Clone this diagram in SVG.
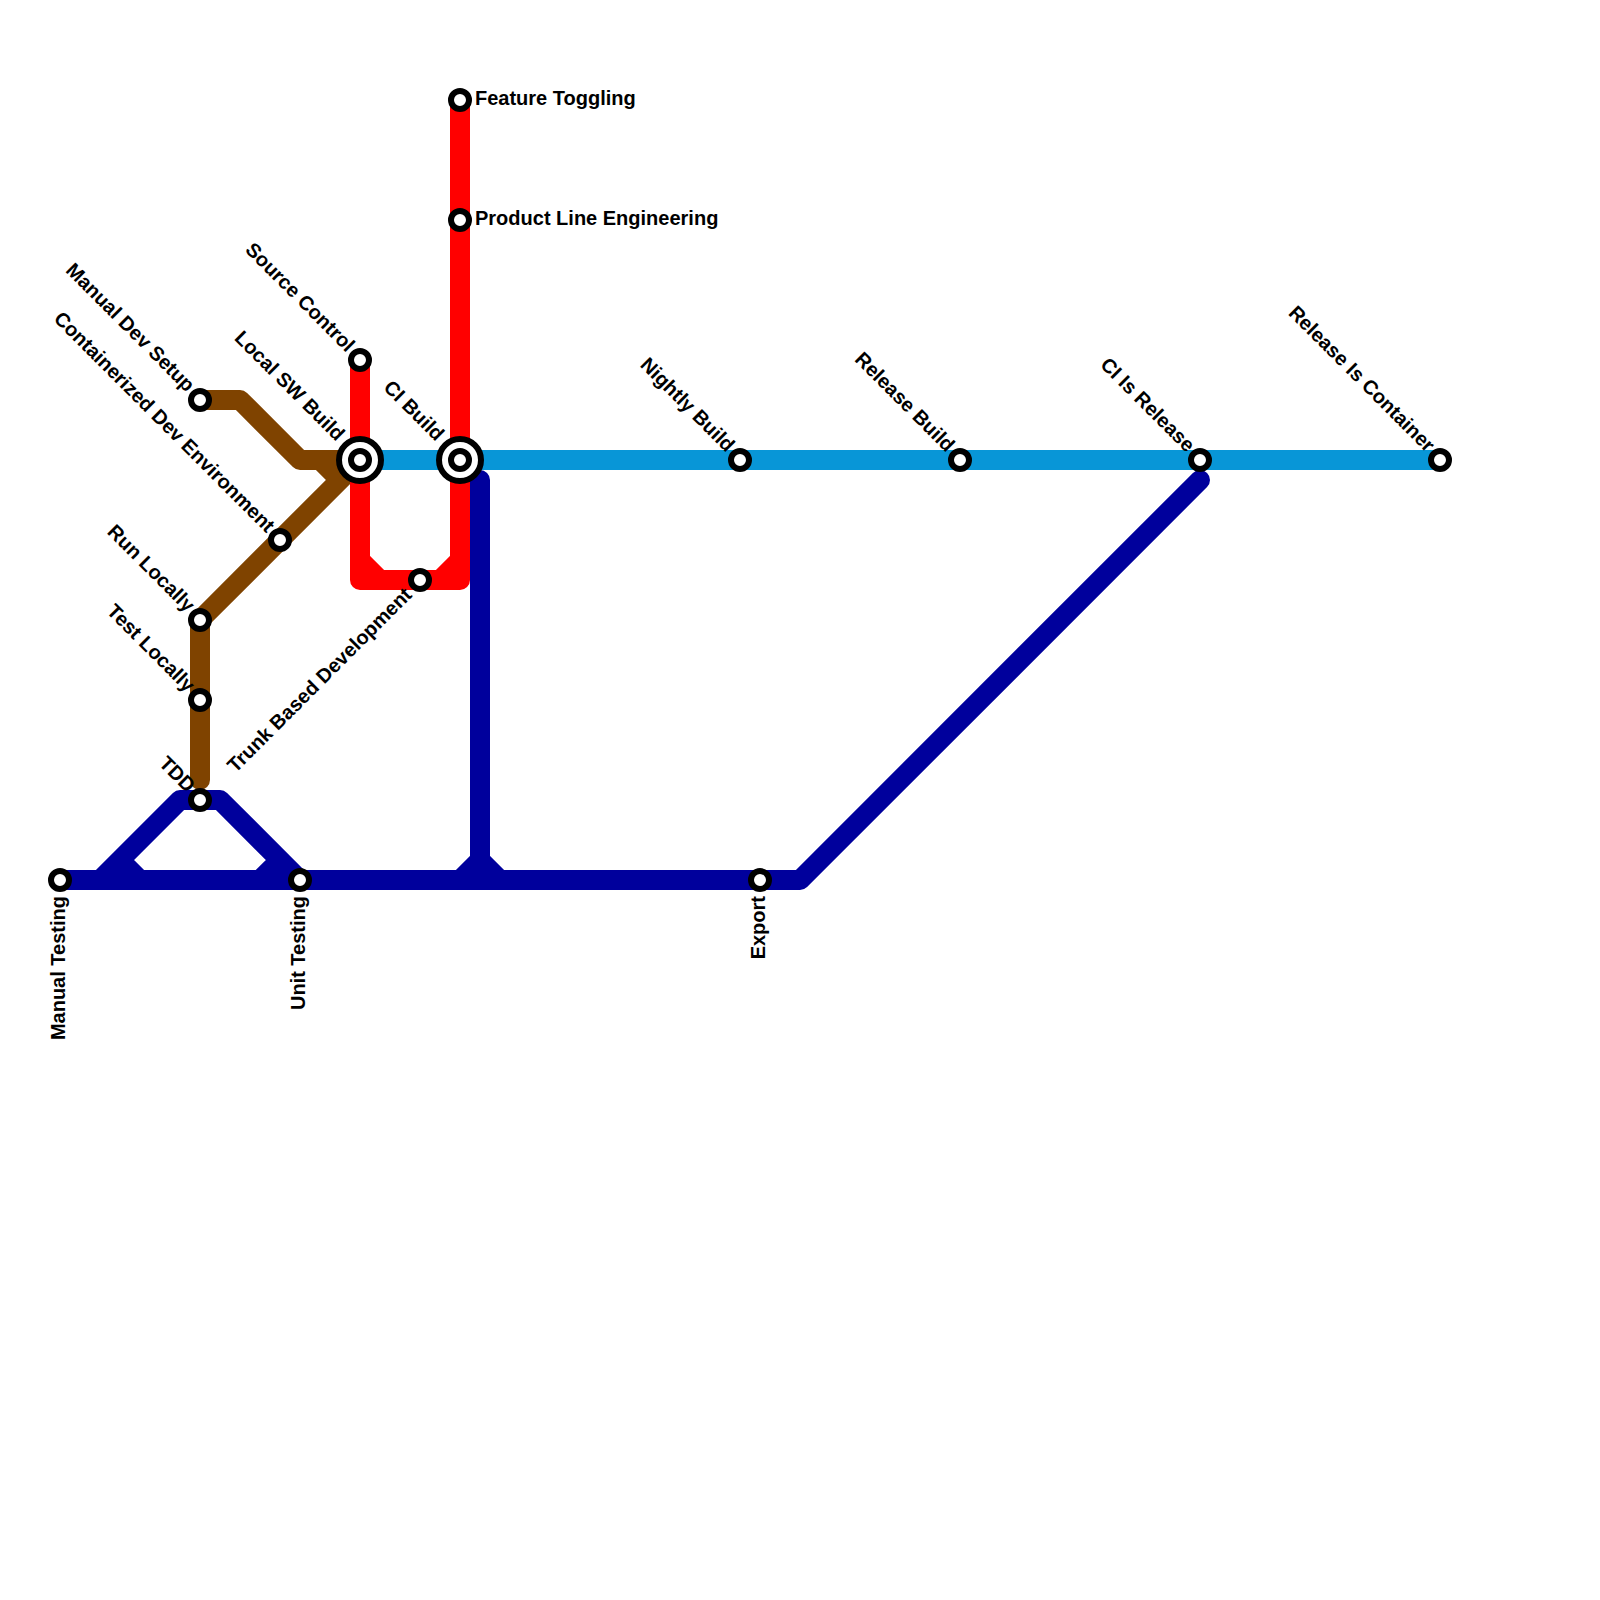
<svg xmlns="http://www.w3.org/2000/svg" width="1600" height="1600" viewBox="0 0 1600 1600">
<style>
.l{fill:none;stroke-width:20;stroke-linecap:round;stroke-linejoin:round}
.s{fill:#fff;stroke:#000;stroke-width:6}
text{font-family:"Liberation Sans",Arial,sans-serif;font-weight:700;font-size:20px;fill:#000}
.e{text-anchor:end}
</style>
<rect width="1600" height="1600" fill="#fff"/>
<g id="connectors">
<path class="l" stroke="#00009c" d="M60 880H800L1200 480M100 880L180 800H220L300 880M120 860L140 880M280 860L260 880M480 480V880M480 860L460 880M480 860L500 880"/>
<path class="l" stroke="#7f4300" d="M200 400H240L300 460H360M200 780V620L360 460M340 480L320 460"/>
<path class="l" stroke="#ff0000" d="M360 360V580H460V100M360 560L380 580M460 560L440 580"/>
<path class="l" stroke="#0896d7" d="M360 460H1440"/>
</g>
<g id="n-feature-toggling"><circle class="s" cx="460" cy="100" r="9"/><text x="475" y="105">Feature Toggling</text></g>
<g id="n-product-line"><circle class="s" cx="460" cy="220" r="9"/><text x="475" y="225">Product Line Engineering</text></g>
<g id="n-source-control"><circle class="s" cx="360" cy="360" r="9"/><text class="e" transform="translate(346.5 353) rotate(45)">Source Control</text></g>
<g id="n-manual-dev"><circle class="s" cx="200" cy="400" r="9"/><text class="e" transform="translate(186.5 393) rotate(45)">Manual Dev Setup</text></g>
<g id="n-local-build"><circle class="s" cx="360" cy="460" r="21"/><circle class="s" cx="360" cy="460" r="9"/><text class="e" transform="translate(336.5 442) rotate(45)">Local SW Build</text></g>
<g id="n-ci-build"><circle class="s" cx="460" cy="460" r="21"/><circle class="s" cx="460" cy="460" r="9"/><text class="e" transform="translate(436 442) rotate(45)">CI Build</text></g>
<g id="n-containerized"><circle class="s" cx="280" cy="540" r="9"/><text class="e" transform="translate(266.5 533.5) rotate(45)">Containerized Dev Environment</text></g>
<g id="n-trunk"><circle class="s" cx="420" cy="580" r="9"/><text class="e" transform="translate(413 596) rotate(-45)">Trunk Based Development</text></g>
<g id="n-run-locally"><circle class="s" cx="200" cy="620" r="9"/><text class="e" transform="translate(186.5 613) rotate(45)">Run Locally</text></g>
<g id="n-test-locally"><circle class="s" cx="200" cy="700" r="9"/><text class="e" transform="translate(186.5 693) rotate(45)">Test Locally</text></g>
<g id="n-tdd"><circle class="s" cx="200" cy="800" r="9"/><text class="e" transform="translate(187 793.5) rotate(45)">TDD</text></g>
<g id="n-manual-testing"><circle class="s" cx="60" cy="880" r="9"/><text class="e" transform="translate(65 896) rotate(-90)">Manual Testing</text></g>
<g id="n-unit-testing"><circle class="s" cx="300" cy="880" r="9"/><text class="e" transform="translate(305 896) rotate(-90)">Unit Testing</text></g>
<g id="n-export"><circle class="s" cx="760" cy="880" r="9"/><text class="e" transform="translate(765 896) rotate(-90)">Export</text></g>
<g id="n-nightly"><circle class="s" cx="740" cy="460" r="9"/><text class="e" transform="translate(726.5 453) rotate(45)">Nightly Build</text></g>
<g id="n-release-build"><circle class="s" cx="960" cy="460" r="9"/><text class="e" transform="translate(946.5 453) rotate(45)">Release Build</text></g>
<g id="n-ci-release"><circle class="s" cx="1200" cy="460" r="9"/><text class="e" transform="translate(1186.5 453) rotate(45)">CI Is Release</text></g>
<g id="n-release-container"><circle class="s" cx="1440" cy="460" r="9"/><text class="e" transform="translate(1426.5 453) rotate(45)">Release Is Container</text></g>
</svg>
